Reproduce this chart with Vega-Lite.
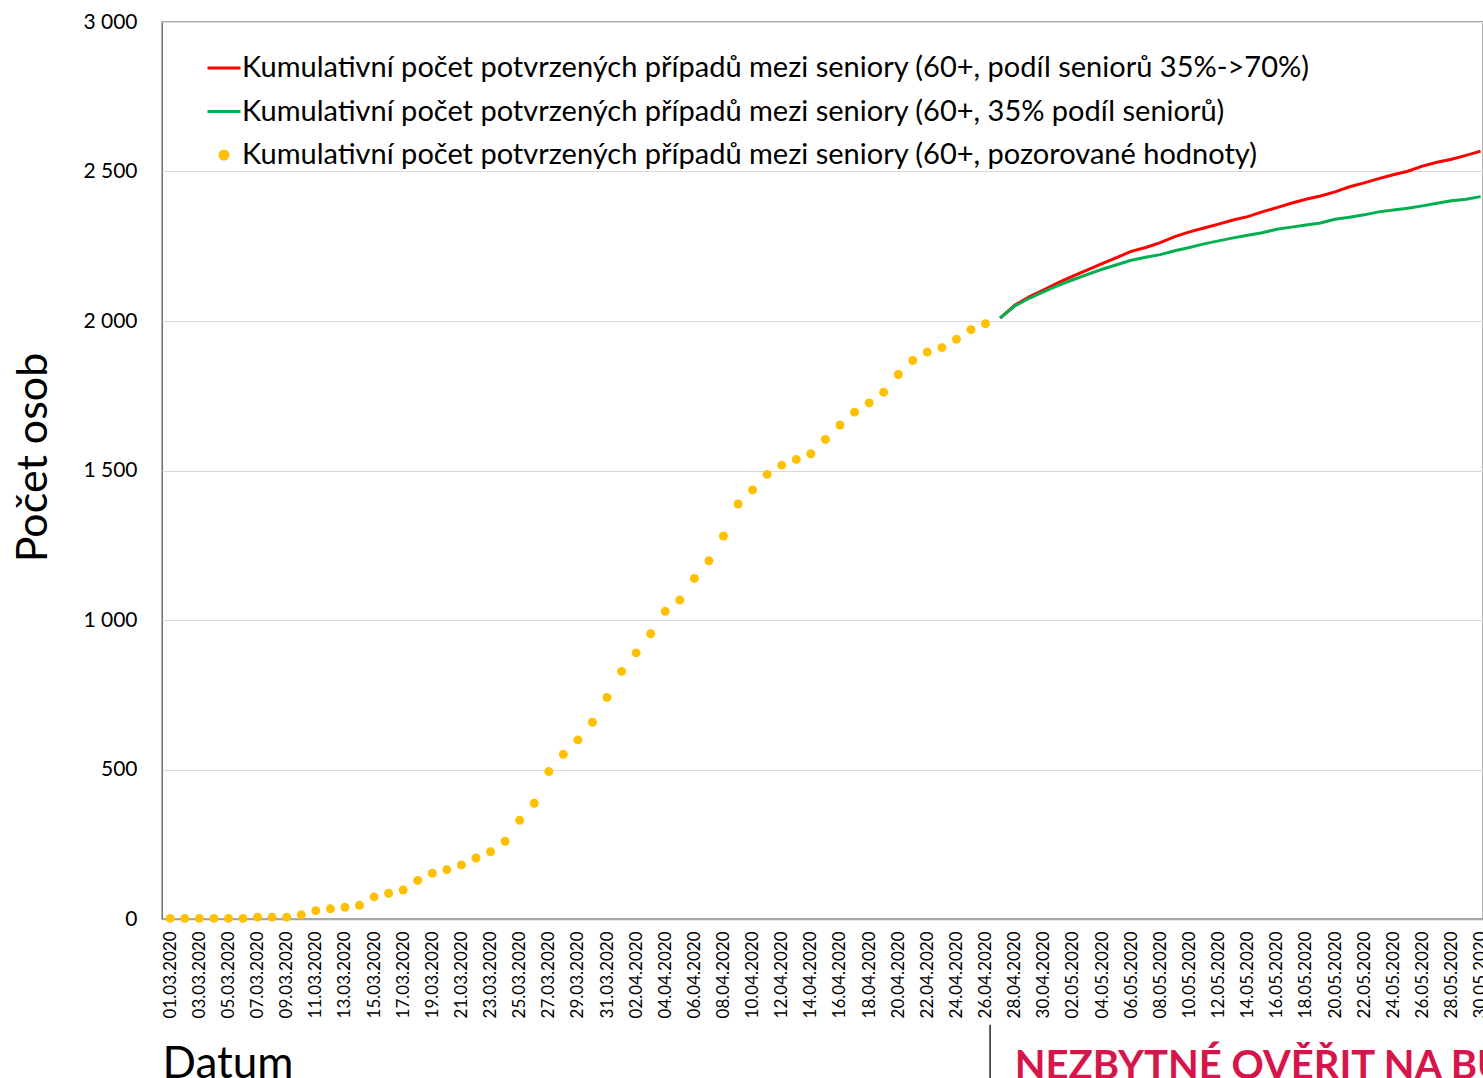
{
  "$schema": "https://vega.github.io/schema/vega-lite/v6.json",
  "autosize": {"type": "none"},
  "padding": {"left": 162, "top": 22, "right": 0, "bottom": 159},
  "width": 1321,
  "height": 897,
  "background": "white",
  "config": {
    "font": "Lato",
    "view": {"stroke": "#595959", "strokeWidth": 1.3},
    "axis": {"labelColor": "#000000", "titleColor": "#000000", "labelFont": "Lato", "titleFont": "Lato", "titleFontWeight": "normal"}
  },
  "datasets": {
    "obs": [
      {"d": "2020-03-01", "s": "c", "v": 2}, {"d": "2020-03-02", "s": "c", "v": 2}, {"d": "2020-03-03", "s": "c", "v": 2},
      {"d": "2020-03-04", "s": "c", "v": 2}, {"d": "2020-03-05", "s": "c", "v": 2}, {"d": "2020-03-06", "s": "c", "v": 2},
      {"d": "2020-03-07", "s": "c", "v": 6}, {"d": "2020-03-08", "s": "c", "v": 6}, {"d": "2020-03-09", "s": "c", "v": 6},
      {"d": "2020-03-10", "s": "c", "v": 14}, {"d": "2020-03-11", "s": "c", "v": 28}, {"d": "2020-03-12", "s": "c", "v": 34},
      {"d": "2020-03-13", "s": "c", "v": 39}, {"d": "2020-03-14", "s": "c", "v": 46}, {"d": "2020-03-15", "s": "c", "v": 74},
      {"d": "2020-03-16", "s": "c", "v": 86}, {"d": "2020-03-17", "s": "c", "v": 97}, {"d": "2020-03-18", "s": "c", "v": 129},
      {"d": "2020-03-19", "s": "c", "v": 153}, {"d": "2020-03-20", "s": "c", "v": 165}, {"d": "2020-03-21", "s": "c", "v": 181},
      {"d": "2020-03-22", "s": "c", "v": 204}, {"d": "2020-03-23", "s": "c", "v": 225}, {"d": "2020-03-24", "s": "c", "v": 260},
      {"d": "2020-03-25", "s": "c", "v": 330}, {"d": "2020-03-26", "s": "c", "v": 387}, {"d": "2020-03-27", "s": "c", "v": 493},
      {"d": "2020-03-28", "s": "c", "v": 551}, {"d": "2020-03-29", "s": "c", "v": 599}, {"d": "2020-03-30", "s": "c", "v": 658},
      {"d": "2020-03-31", "s": "c", "v": 741}, {"d": "2020-04-01", "s": "c", "v": 828}, {"d": "2020-04-02", "s": "c", "v": 890},
      {"d": "2020-04-03", "s": "c", "v": 954}, {"d": "2020-04-04", "s": "c", "v": 1029}, {"d": "2020-04-05", "s": "c", "v": 1067},
      {"d": "2020-04-06", "s": "c", "v": 1139}, {"d": "2020-04-07", "s": "c", "v": 1198}, {"d": "2020-04-08", "s": "c", "v": 1281},
      {"d": "2020-04-09", "s": "c", "v": 1388}, {"d": "2020-04-10", "s": "c", "v": 1435}, {"d": "2020-04-11", "s": "c", "v": 1487},
      {"d": "2020-04-12", "s": "c", "v": 1518}, {"d": "2020-04-13", "s": "c", "v": 1537}, {"d": "2020-04-14", "s": "c", "v": 1556},
      {"d": "2020-04-15", "s": "c", "v": 1604}, {"d": "2020-04-16", "s": "c", "v": 1652}, {"d": "2020-04-17", "s": "c", "v": 1695},
      {"d": "2020-04-18", "s": "c", "v": 1726}, {"d": "2020-04-19", "s": "c", "v": 1762}, {"d": "2020-04-20", "s": "c", "v": 1821},
      {"d": "2020-04-21", "s": "c", "v": 1868}, {"d": "2020-04-22", "s": "c", "v": 1896}, {"d": "2020-04-23", "s": "c", "v": 1911},
      {"d": "2020-04-24", "s": "c", "v": 1939}, {"d": "2020-04-25", "s": "c", "v": 1971}, {"d": "2020-04-26", "s": "c", "v": 1991}
    ],
    "proj": [
      {"d": "2020-04-27", "a": 2010, "b": 2010}, {"d": "2020-04-28", "a": 2053, "b": 2050}, {"d": "2020-04-29", "a": 2081, "b": 2076},
      {"d": "2020-04-30", "a": 2104, "b": 2098}, {"d": "2020-05-01", "a": 2128, "b": 2119}, {"d": "2020-05-02", "a": 2150, "b": 2138},
      {"d": "2020-05-03", "a": 2171, "b": 2156}, {"d": "2020-05-04", "a": 2192, "b": 2173}, {"d": "2020-05-05", "a": 2212, "b": 2188},
      {"d": "2020-05-06", "a": 2233, "b": 2203}, {"d": "2020-05-07", "a": 2246, "b": 2213}, {"d": "2020-05-08", "a": 2262, "b": 2222},
      {"d": "2020-05-09", "a": 2282, "b": 2235}, {"d": "2020-05-10", "a": 2298, "b": 2246}, {"d": "2020-05-11", "a": 2311, "b": 2258},
      {"d": "2020-05-12", "a": 2324, "b": 2268}, {"d": "2020-05-13", "a": 2338, "b": 2278}, {"d": "2020-05-14", "a": 2349, "b": 2287},
      {"d": "2020-05-15", "a": 2365, "b": 2295}, {"d": "2020-05-16", "a": 2379, "b": 2307}, {"d": "2020-05-17", "a": 2394, "b": 2314},
      {"d": "2020-05-18", "a": 2407, "b": 2321}, {"d": "2020-05-19", "a": 2418, "b": 2328}, {"d": "2020-05-20", "a": 2432, "b": 2340},
      {"d": "2020-05-21", "a": 2449, "b": 2347}, {"d": "2020-05-22", "a": 2462, "b": 2355}, {"d": "2020-05-23", "a": 2476, "b": 2365},
      {"d": "2020-05-24", "a": 2489, "b": 2371}, {"d": "2020-05-25", "a": 2501, "b": 2377}, {"d": "2020-05-26", "a": 2518, "b": 2385},
      {"d": "2020-05-27", "a": 2531, "b": 2394}, {"d": "2020-05-28", "a": 2541, "b": 2402}, {"d": "2020-05-29", "a": 2554, "b": 2407},
      {"d": "2020-05-30", "a": 2568, "b": 2416}
    ],
    "note": [{"t": "NEZBYTNÉ OVĚŘIT NA BUDOUCÍCH DATECH", "y": -536, "r1": -354, "r2": -600}]
  },
  "encoding": {
    "x": {
      "field": "d", "type": "ordinal", "sort": "ascending",
      "scale": {"type": "point", "padding": 0.364, "align": 0.774},
      "axis": {
        "title": "Datum", "titleFontSize": 44, "titleAnchor": "start", "titleAlign": "left", "titlePadding": 25,
        "labelAngle": -90, "labelFontSize": 17, "labelPadding": 12, "ticks": false, "grid": false,
        "domainColor": "#A6A6A6", "domainWidth": 1.5,
        "labelExpr": "slice(datum.value,8,10)+'.'+slice(datum.value,5,7)+'.'+slice(datum.value,0,4)",
        "values": ["2020-03-01","2020-03-03","2020-03-05","2020-03-07","2020-03-09","2020-03-11","2020-03-13","2020-03-15","2020-03-17","2020-03-19","2020-03-21","2020-03-23","2020-03-25","2020-03-27","2020-03-29","2020-03-31","2020-04-02","2020-04-04","2020-04-06","2020-04-08","2020-04-10","2020-04-12","2020-04-14","2020-04-16","2020-04-18","2020-04-20","2020-04-22","2020-04-24","2020-04-26","2020-04-28","2020-04-30","2020-05-02","2020-05-04","2020-05-06","2020-05-08","2020-05-10","2020-05-12","2020-05-14","2020-05-16","2020-05-18","2020-05-20","2020-05-22","2020-05-24","2020-05-26","2020-05-28","2020-05-30"]
      }
    },
    "y": {
      "field": "v", "type": "quantitative",
      "scale": {"domain": [0, 3000], "nice": false, "zero": true},
      "axis": {
        "title": "Počet osob", "titleFontSize": 43, "titlePadding": 27, "titleY": 435,
        "values": [0, 500, 1000, 1500, 2000, 2500, 3000],
        "labelFontSize": 21, "labelPadding": 25, "ticks": false, "domain": false,
        "gridColor": "#D9D9D9", "gridWidth": 1,
        "labelExpr": "replace(format(datum.value, ','), ',', ' ')"
      }
    }
  },
  "layer": [
    {
      "data": {"name": "proj"},
      "transform": [{"fold": ["a", "b"], "as": ["s", "v"]}],
      "mark": {"type": "line", "strokeWidth": 3, "clip": true},
      "encoding": {
        "color": {
          "field": "s", "type": "nominal",
          "scale": {"domain": ["a", "b", "c"], "range": ["#FF0000", "#00B050", "#FFC000"]},
          "legend": {
            "title": null, "orient": "none", "legendX": 44, "legendY": 28, "padding": 0,
            "labelFont": "Lato", "labelFontSize": 29, "labelColor": "#000000", "labelLimit": 3000, "labelOffset": 0,
            "symbolSize": 1089, "symbolStrokeWidth": 3, "rowPadding": 10.5,
            "labelExpr": "datum.value === 'a' ? 'Kumulativní počet potvrzených případů mezi seniory (60+, podíl seniorů 35%->70%)' : datum.value === 'b' ? 'Kumulativní počet potvrzených případů mezi seniory (60+, 35% podíl seniorů)' : 'Kumulativní počet potvrzených případů mezi seniory (60+, pozorované hodnoty)'",
            "encode": {
              "symbols": {
                "update": {
                  "shape": {"signal": "datum.value === 'c' ? 'circle' : 'stroke'"},
                  "size": {"signal": "datum.value === 'c' ? 64 : 1089"},
                  "fill": {"signal": "datum.value === 'c' ? '#FFC000' : 'transparent'"},
                  "stroke": {"signal": "datum.value === 'a' ? '#FF0000' : datum.value === 'b' ? '#00B050' : 'transparent'"},
                  "strokeWidth": {"value": 3},
                  "opacity": {"value": 1}
                }
              }
            }
          }
        }
      }
    },
    {
      "data": {"name": "obs"},
      "mark": {"type": "point", "filled": true, "size": 80, "opacity": 1, "strokeWidth": 0},
      "encoding": {
        "color": {"field": "s", "type": "nominal"}
      }
    },
    {
      "data": {"name": "note"},
      "mark": {"type": "text", "align": "left", "baseline": "alphabetic", "font": "Lato", "fontWeight": "bold", "fontSize": 40, "color": "#D7154A", "clip": false},
      "encoding": {
        "x": {"datum": "2020-04-28", "type": "ordinal"},
        "y": {"field": "y", "type": "quantitative"},
        "text": {"field": "t"}
      }
    },
    {
      "data": {"name": "note"},
      "mark": {"type": "rule", "color": "#000000", "strokeWidth": 1.3, "xOffset": 4.5, "clip": false},
      "encoding": {
        "x": {"datum": "2020-04-26", "type": "ordinal"},
        "y": {"field": "r1", "type": "quantitative"},
        "y2": {"field": "r2"}
      }
    }
  ]
}
